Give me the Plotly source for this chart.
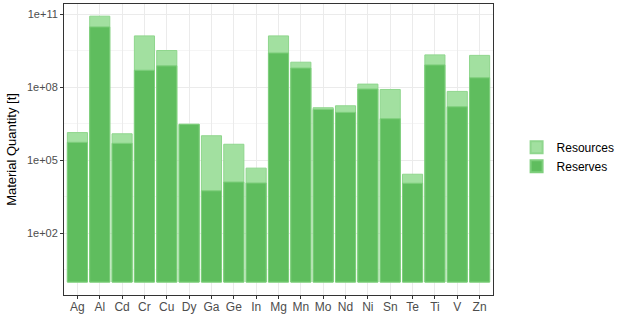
import plotly.graph_objects as go

elements = ["Ag", "Al", "Cd", "Cr", "Cu", "Dy", "Ga", "Ge", "In", "Mg",
            "Mn", "Mo", "Nd", "Ni", "Sn", "Te", "Ti", "V", "Zn"]
resources_log = [6.14, 10.92, 6.09, 10.11, 9.51, 6.48, 6.01, 5.66, 4.68, 10.11,
                 9.03, 7.16, 7.24, 8.13, 7.91, 4.43, 9.33, 7.83, 9.31]
reserves_log = [5.74, 10.48, 5.70, 8.70, 8.88, 6.48, 3.75, 4.11, 4.07, 9.41,
                8.79, 7.09, 6.97, 7.93, 6.71, 4.06, 8.92, 7.20, 8.39]
resources = [10 ** v for v in resources_log]
reserves = [10 ** v for v in reserves_log]

tick_vals = [1e2, 1e5, 1e8, 1e11]
tick_text = ["1e+02", "1e+05", "1e+08", "1e+11"]

fig = go.Figure()
fig.add_trace(go.Bar(x=elements, y=resources, base=1, name="Resources",
                     width=0.9, marker=dict(color="#a2e0a0",
                                            line=dict(color="#8fd68d", width=1))))
fig.add_trace(go.Bar(x=elements, y=reserves, base=1, name="Reserves",
                     width=0.9, marker=dict(color="#5fbd5e",
                                            line=dict(color="#7fcf7d", width=1))))

fig.update_layout(
    width=624, height=314,
    margin=dict(l=64, r=105, t=4, b=19),
    barmode="overlay", bargap=0.1,
    plot_bgcolor="white", paper_bgcolor="white",
    font=dict(family="Liberation Sans, Arial, sans-serif", color="#4d4d4d", size=11),
    legend=dict(x=1.055, xanchor="left", y=0.475, yanchor="middle",
                font=dict(size=12, color="black"), tracegroupgap=2,
                itemsizing="constant"),
    xaxis=dict(range=[-0.6, len(elements) - 0.4], showline=True, linecolor="#333333",
               linewidth=1, mirror=True, ticks="outside", ticklen=3, tickcolor="#333333",
               showgrid=True, gridcolor="#ebebeb", gridwidth=1, automargin=False,
               ticklabelstandoff=-2,
               tickfont=dict(size=12, color="#4d4d4d")),
    yaxis=dict(type="log", range=[-0.53, 11.42], tickvals=tick_vals, ticktext=tick_text,
               showline=True, linecolor="#333333", linewidth=1, mirror=True,
               ticks="outside", ticklen=3, tickcolor="#333333", automargin=False,
               showgrid=True, gridcolor="#ebebeb", gridwidth=1,
               minor=dict(tick0=0.5, dtick=3, showgrid=True, gridcolor="#f5f5f5",
                          ticks=""),
               title=dict(text="Material Quantity [t]", font=dict(size=13, color="black"),
                          standoff=7),
               tickfont=dict(size=11, color="#4d4d4d")),
)
fig.write_html("out.html")
